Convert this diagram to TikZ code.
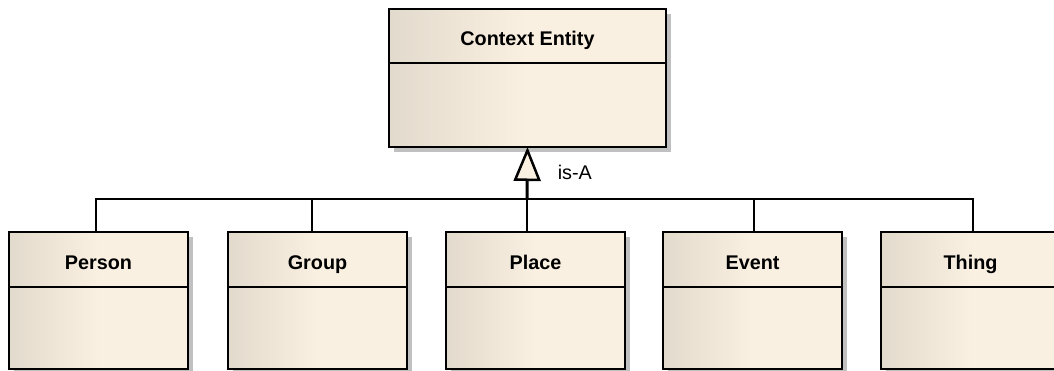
\documentclass[tikz,border=0pt]{standalone}
\usepackage{fontspec}
\setmainfont{Liberation Sans}
\usetikzlibrary{positioning, shadows, arrows.meta}

\definecolor{clsleft}{RGB}{226,218,204}
\definecolor{clsright}{RGB}{250,240,226}
\definecolor{shadowgray}{RGB}{192,192,192}

\tikzset{
	classbox/.style={draw, line width=2pt, anchor=north west, outer sep=0pt,
		left color=clsleft, right color=clsright, middle color=clsright,
		drop shadow={shadow xshift=5pt, shadow yshift=-5pt, fill=shadowgray, opacity=1},
		minimum width=179pt, minimum height=137pt},
	classname/.style={inner sep=0pt, outer sep=0pt, minimum height=55pt,
		text height=19pt, text depth=0pt,
		font=\fontsize{19.8}{22}\selectfont\bfseries},
	divider/.style={line width=2pt},
	link/.style={line width=1.5pt},
	isa/.style={line width=3pt, -{Triangle[width=27pt, length=34pt, fill=clsright, line width=2.5pt]}}
}

\begin{document}
\begin{tikzpicture}[x=1pt, y=-1pt]
	\useasboundingbox (0,0) rectangle (1054,370);
	% superclass
	\node[classbox, minimum width=277pt, minimum height=138pt] (entity) at (389,9) {};
	\node[classname, minimum height=54pt, below=0pt of entity.north] (entity-name) {Context Entity};
	\draw[divider] (entity-name.south -| entity.west) -- (entity-name.south -| entity.east);
	
	\coordinate (bus) at (527,199);
	% subclasses
	\foreach \nm/\lbl/\bx/\dx in {person/Person/9/-2.5, group/Group/228/-5.5, place/Place/446/-8.5, event/Event/663/1.5, thing/Thing/881/2.5} {
		\node[classbox] (\nm) at (\bx,232) {};
		\node[classname, below=0pt of \nm.north] (\nm-name) {\lbl};
		\draw[divider] (\nm-name.south -| \nm.west) -- (\nm-name.south -| \nm.east);
		\draw[link] ([xshift=\dx pt]\nm.north) |- (bus);
	}
	
	\draw[isa] (bus) -- node[pos=0.52, right=29pt, inner sep=0pt, font=\fontsize{19.8}{22}\selectfont] {is-A} (entity.south);
\end{tikzpicture}
\end{document}
